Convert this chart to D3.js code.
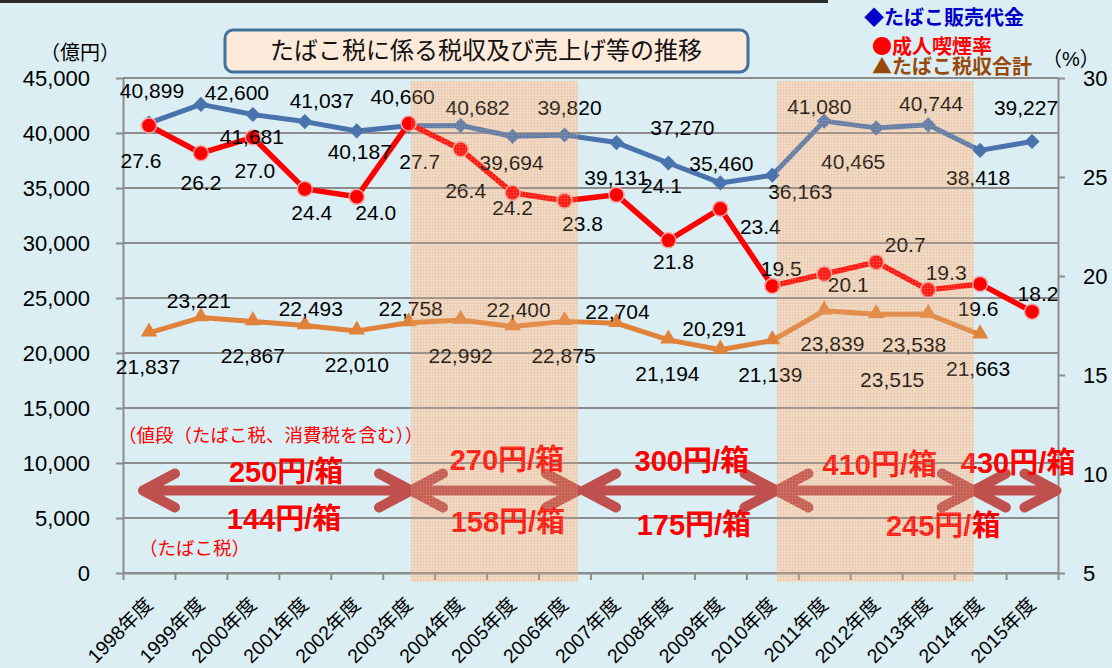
<!DOCTYPE html>
<html>
<head>
<meta charset="utf-8">
<script src="https://cdn.jsdelivr.net/npm/d3@7"></script>
<style>
  html, body { margin: 0; padding: 0; background: #DAEEF3; }
  svg { display: block; font-family: "Liberation Sans", "Noto Sans CJK JP", sans-serif; }
</style>
</head>
<body>
<svg id="chart"></svg>
<script>
(() => {
// ---- data ----
let years = ['1998年度', '1999年度', '2000年度', '2001年度', '2002年度', '2003年度',
  '2004年度', '2005年度', '2006年度', '2007年度', '2008年度', '2009年度',
  '2010年度', '2011年度', '2012年度', '2013年度', '2014年度', '2015年度'];

// たばこ販売代金 (億円)
let sales = [40899, 42600, 41681, 41037, 40187, 40660, 40682, 39694, 39820,
  39131, 37270, 35460, 36163, 41080, 40465, 40744, 38418, 39227];

// 成人喫煙率 (%)
let smoking = [27.6, 26.2, 27.0, 24.4, 24.0, 27.7, 26.4, 24.2, 23.8,
  24.1, 21.8, 23.4, 19.5, 20.1, 20.7, 19.3, 19.6, 18.2];

// たばこ税収合計 (億円), no value for 2015
let taxRev = [21837, 23221, 22867, 22493, 22010, 22758, 22992, 22400, 22875,
  22704, 21194, 20291, 21139, 23839, 23515, 23538, 21663, null];

let leftTicks = [0, 5000, 10000, 15000, 20000, 25000, 30000, 35000, 40000, 45000];
let rightTicks = [5, 10, 15, 20, 25, 30];

// price periods (category index ranges) and their labels
let periods = [[0.385, 5.545], [5.545, 8.76], [8.876, 12.58], [12.58, 16.38], [16.38, 17.97]];
let priceLabels = ['250円/箱', '270円/箱', '300円/箱', '410円/箱', '430円/箱'];
let taxLabels = ['144円/箱', '158円/箱', '175円/箱', '245円/箱'];
let bands = [[5.545, 8.76], [12.59, 16.38]];

// ---- label placement (offsets from the marker, px) ----
let salesOff = [[3,-33],[36,-12],[-1,22],[17,-21],[3,20],[-6,-29],[17,-18],[-1,26],[5,-28],
  [0,35],[14,-36],[1,-20],[28,16],[-5,-15],[-23,34],[3,-21],[-2,27],[-6,-34]];
let smokeOff = [[-8,35],[0,29],[2,33],[7,24],[19,16],[11,38],[5,41],[0,15],[18,23],
  [45,-9],[5,21],[40,18],[9,-17],[24,10],[29,-18],[18,-17],[-2,25],[6,-18]];
let taxOff = [[-1,34],[-2,-17],[0,34],[6,-17],[0,34],[2,-14],[0,35],[6,-17],[-1,34],
  [1,-12],[-1,34],[-6,-21],[-2,34],[8,33],[16,65],[-14,30],[-2,34]];
let priceAt = [[3.14, 9180], [7.39, 10270], [10.95, 10180], [14.57, 9900], [17.23, 10000]];
let taxAt = [[3.10, 4950], [7.41, 4640], [10.99, 4360], [15.79, 4270]];

// ---- sizes ----
let W = 1112, H = 668,
    left = 123, right = 1058, top = 78, bottom = 573,
    blue = '#4A73AE', red = '#FF0000', orange = '#E0823A', gridC = '#8C8C8C';

let svg = d3.select('#chart').attr('width', W).attr('height', H);

let defs = svg.append('defs');
let pat = defs.append('pattern').attr('id', 'bandPat')
    .attr('patternUnits', 'userSpaceOnUse').attr('width', 3).attr('height', 3);
pat.append('rect').attr('width', 3).attr('height', 3).attr('fill', 'rgba(246,210,175,0.10)');
pat.append('path').attr('d', 'M0,0.5H3M0.5,0V3')
    .attr('stroke', 'rgba(225,165,115,0.20)').attr('stroke-width', 1);

svg.append('rect').attr('width', W).attr('height', H).attr('fill', '#DAEEF3');
svg.append('rect').attr('x', 0).attr('y', 0).attr('width', 828).attr('height', 3).attr('fill', '#2a2a2a');

let xIdx = d3.scaleLinear().domain([0, years.length]).range([left, right]);
let xBand = d3.scaleBand().domain(years).range([left, right]);
let cx = i => xBand(years[i]) + xBand.bandwidth() / 2;
let yL = d3.scaleLinear().domain([0, 45000]).range([bottom, top]);
let yR = d3.scaleLinear().domain([5, 30]).range([bottom, top]);

let bandTop = top + 3, bandBottom = bottom + 9;

// band base colour
svg.selectAll('rect.bandBase').data(bands).enter().append('rect')
    .attr('class', 'bandBase')
    .attr('x', d => xIdx(d[0])).attr('width', d => xIdx(d[1]) - xIdx(d[0]))
    .attr('y', bandTop).attr('height', bandBottom - bandTop)
    .attr('fill', '#F0DDCB');

// gridlines
svg.selectAll('line.grid').data(leftTicks).enter().append('line')
    .attr('class', 'grid')
    .attr('x1', left).attr('x2', right)
    .attr('y1', d => yL(d)).attr('y2', d => yL(d))
    .attr('stroke', gridC).attr('stroke-width', 2);

// axes
let fmt = d3.format(',');
let gL = svg.append('g').attr('transform', `translate(${left},0)`)
    .call(d3.axisLeft(yL).tickValues(leftTicks).tickFormat(fmt).tickSize(7).tickSizeOuter(0).tickPadding(26));
let gR = svg.append('g').attr('transform', `translate(${right},0)`)
    .call(d3.axisRight(yR).tickValues(rightTicks).tickSize(7).tickSizeOuter(0).tickPadding(18));
let gB = svg.append('g').attr('transform', `translate(0,${bottom})`)
    .call(d3.axisBottom(xIdx).tickValues(d3.range(years.length + 1)).tickFormat('').tickSize(7).tickSizeOuter(0));
[gL, gR, gB].forEach(g => {
  g.select('.domain').attr('stroke', gridC).attr('stroke-width', 2);
  g.selectAll('.tick line').attr('stroke', gridC).attr('stroke-width', 2);
  g.selectAll('.tick text').attr('fill', '#000').attr('font-size', 22)
    .attr('font-family', '"Liberation Sans", sans-serif');
});

// x labels
svg.append('g').selectAll('text').data(years).enter().append('text')
    .text(d => d)
    .attr('transform', (d, i) => `translate(${cx(i) + 5},${bottom + 33}) rotate(-45)`)
    .attr('text-anchor', 'end')
    .attr('font-size', 19.5).attr('fill', '#000');

// lines
let lineL = d3.line().defined(d => d != null).x((d, i) => cx(i)).y(d => yL(d));
let lineR = d3.line().x((d, i) => cx(i)).y(d => yR(d));

svg.append('path').datum(taxRev).attr('d', lineL)
    .attr('fill', 'none').attr('stroke', orange).attr('stroke-width', 5).attr('stroke-linejoin', 'round');
svg.append('g').selectAll('path').data(taxRev.map((v, i) => [v, i]).filter(d => d[0] != null))
    .enter().append('path')
    .attr('d', d3.symbol(d3.symbolTriangle, 115))
    .attr('transform', d => `translate(${cx(d[1])},${yL(d[0]) - 1})`)
    .attr('fill', orange);

svg.append('path').datum(sales).attr('d', lineL)
    .attr('fill', 'none').attr('stroke', blue).attr('stroke-width', 5).attr('stroke-linejoin', 'round');
svg.append('g').selectAll('path').data(sales).enter().append('path')
    .attr('d', d3.symbol(d3.symbolSquare, 115))
    .attr('transform', (d, i) => `translate(${cx(i)},${yL(d)}) rotate(45)`)
    .attr('fill', blue);

svg.append('path').datum(smoking).attr('d', lineR)
    .attr('fill', 'none').attr('stroke', red).attr('stroke-width', 5.5).attr('stroke-linejoin', 'round');
svg.append('g').selectAll('circle').data(smoking).enter().append('circle')
    .attr('cx', (d, i) => cx(i)).attr('cy', d => yR(d)).attr('r', 7.5)
    .attr('fill', red).attr('stroke', '#F3A3A3').attr('stroke-width', 1.5);

// data labels
let addLabels = (vals, offs, yS, f) => {
  svg.append('g').selectAll('text')
    .data(vals.map((v, i) => [v, i]).filter(d => d[0] != null))
    .enter().append('text')
    .text(d => f(d[0]))
    .attr('x', d => cx(d[1]) + offs[d[1]][0])
    .attr('y', d => yS(d[0]) + offs[d[1]][1])
    .attr('dy', '0.36em')
    .attr('text-anchor', 'middle')
    .attr('font-size', 21).attr('fill', '#000');
};
addLabels(sales, salesOff, yL, fmt);
addLabels(smoking, smokeOff, yR, d3.format('.1f'));
addLabels(taxRev, taxOff, yL, fmt);

// price arrows
let arrowY = yL(7500), ax = 32, ay = 17;
let arrows = svg.append('g').attr('stroke', '#C0504D').attr('stroke-width', 10)
    .attr('stroke-linecap', 'round').attr('stroke-linejoin', 'round').attr('fill', 'none');
periods.forEach(p => {
  let a = xIdx(p[0]), b = xIdx(p[1]);
  arrows.append('path')
    .attr('d', `M${a},${arrowY}H${b}M${a + ax},${arrowY - ay}L${a},${arrowY}L${a + ax},${arrowY + ay}` +
      `M${b - ax},${arrowY - ay}L${b},${arrowY}L${b - ax},${arrowY + ay}`);
});

let bold = (txt, pos) => svg.append('text').text(txt)
    .attr('x', xIdx(pos[0])).attr('y', yL(pos[1])).attr('dy', '0.36em')
    .attr('text-anchor', 'middle').attr('font-size', 29).attr('font-weight', 'bold').attr('fill', red);
priceLabels.forEach((t, i) => bold(t, priceAt[i]));
taxLabels.forEach((t, i) => bold(t, taxAt[i]));

svg.append('text').text('（値段（たばこ税、消費税を含む））')
    .attr('x', 118).attr('y', 442).attr('font-size', 18.5).attr('fill', red);
svg.append('text').text('（たばこ税）')
    .attr('x', 139).attr('y', 555).attr('font-size', 18.5).attr('fill', red);

// band texture overlay
svg.selectAll('rect.bandTop').data(bands).enter().append('rect')
    .attr('class', 'bandTop')
    .attr('x', d => xIdx(d[0])).attr('width', d => xIdx(d[1]) - xIdx(d[0]))
    .attr('y', bandTop).attr('height', bandBottom - bandTop)
    .attr('fill', 'url(#bandPat)');

// title box
svg.append('rect').attr('x', 225).attr('y', 30).attr('width', 523).attr('height', 42).attr('rx', 8)
    .attr('fill', '#FDEADA').attr('stroke', '#41719C').attr('stroke-width', 3);
svg.append('text').text('たばこ税に係る税収及び売上げ等の推移')
    .attr('x', 486).attr('y', 59).attr('text-anchor', 'middle').attr('font-size', 24).attr('fill', '#111');

// units
svg.append('text').text('（億円）').attr('x', 40).attr('y', 60).attr('font-size', 20).attr('fill', '#000');
svg.append('text').text('（%）').attr('x', 1042).attr('y', 66).attr('font-size', 20).attr('fill', '#000');

// legend
let legend = [['◆たばこ販売代金', '#0000C8', 864, 25], ['●成人喫煙率', '#FF0000', 872, 54], ['▲たばこ税収合計', '#984807', 872, 74]];
svg.append('g').selectAll('text').data(legend).enter().append('text')
    .text(d => d[0]).attr('x', d => d[2]).attr('y', d => d[3])
    .attr('font-size', 20).attr('font-weight', 'bold').attr('fill', d => d[1])
    .attr('font-family', '"Noto Sans CJK JP", sans-serif');
})();
</script>
</body>
</html>
